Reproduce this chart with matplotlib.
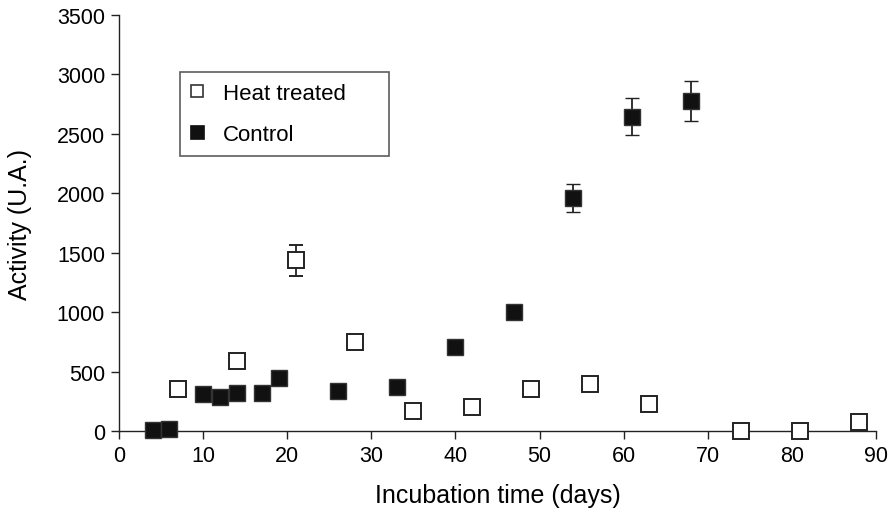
import matplotlib
matplotlib.use("Agg")
import matplotlib.pyplot as plt
from matplotlib.lines import Line2D

plt.rcParams['font.family'] = ['Liberation Sans', 'DejaVu Sans']

# Heat treated (open squares)
heat_days = [7, 14, 21, 28, 35, 42, 49, 56, 63, 74, 81, 88]
heat_activity = [350, 590, 1435, 745, 170, 200, 350, 395, 225, 0, 0, 80]
heat_err = [0, 0, 130, 0, 0, 0, 0, 0, 0, 0, 0, 0]

# Control (filled squares)
ctrl_days = [4, 6, 10, 12, 14, 17, 19, 26, 33, 40, 47, 54, 61, 68]
ctrl_activity = [5, 15, 310, 285, 320, 320, 450, 335, 370, 705, 1005, 1960, 2645, 2775]
ctrl_err = [0, 0, 0, 0, 0, 0, 0, 0, 0, 0, 0, 115, 158, 167]

xticks = [0, 10, 20, 30, 40, 50, 60, 70, 80, 90]
yticks = [0, 500, 1000, 1500, 2000, 2500, 3000, 3500]
series_labels = ['Heat treated', 'Control']

fig = plt.figure(figsize=(8.96, 5.10), dpi=100)
ax = fig.add_axes([0.1328, 0.1529, 0.8449, 0.8157])

ec = '#222222'
ax.errorbar(heat_days, heat_activity, yerr=[e if e > 0 else float('nan') for e in heat_err],
            fmt='s', ms=11.5, mfc='white', mec=ec, mew=1.4, ecolor=ec, elinewidth=1.3,
            capsize=5, capthick=1.3, clip_on=False, zorder=4)
ax.errorbar(ctrl_days, ctrl_activity, yerr=[e if e > 0 else float('nan') for e in ctrl_err],
            fmt='s', ms=11.5, mfc='#111111', mec='#333333', mew=1.0, ecolor=ec, elinewidth=1.3,
            capsize=5, capthick=1.3, clip_on=False, zorder=5)

ax.set_xlim(0, 90)
ax.set_ylim(0, 3500)
ax.set_xticks(xticks)
ax.set_yticks(yticks)
ax.tick_params(direction='out', length=6, width=1.0, color=ec, labelsize=15.5, pad=4)
for s in ['top', 'right']:
    ax.spines[s].set_visible(False)
for s in ['left', 'bottom']:
    ax.spines[s].set_color(ec)
    ax.spines[s].set_linewidth(1.0)

ax.set_xlabel('Incubation time (days)', fontsize=18, labelpad=12)
ax.set_ylabel('Activity (U.A.)', fontsize=18, labelpad=18)

h_open = Line2D([], [], ls='none', marker='s', ms=8.5, mfc='white', mec='#333333', mew=1.2)
h_fill = Line2D([], [], ls='none', marker='s', ms=10.5, mfc='#111111', mec='#111111', mew=0.5)
leg = ax.legend([h_open, h_fill], series_labels, loc='upper left',
                bbox_to_anchor=(0.0806, 0.8630, 0.276, 0), mode='expand',
                borderaxespad=0, fontsize=16, frameon=True, fancybox=False,
                edgecolor='#333333', handlelength=0.5, handletextpad=0.95,
                borderpad=0.5, labelspacing=0.9)
leg.get_frame().set_linewidth(1.2)

fig.savefig('out.png', dpi=100)
